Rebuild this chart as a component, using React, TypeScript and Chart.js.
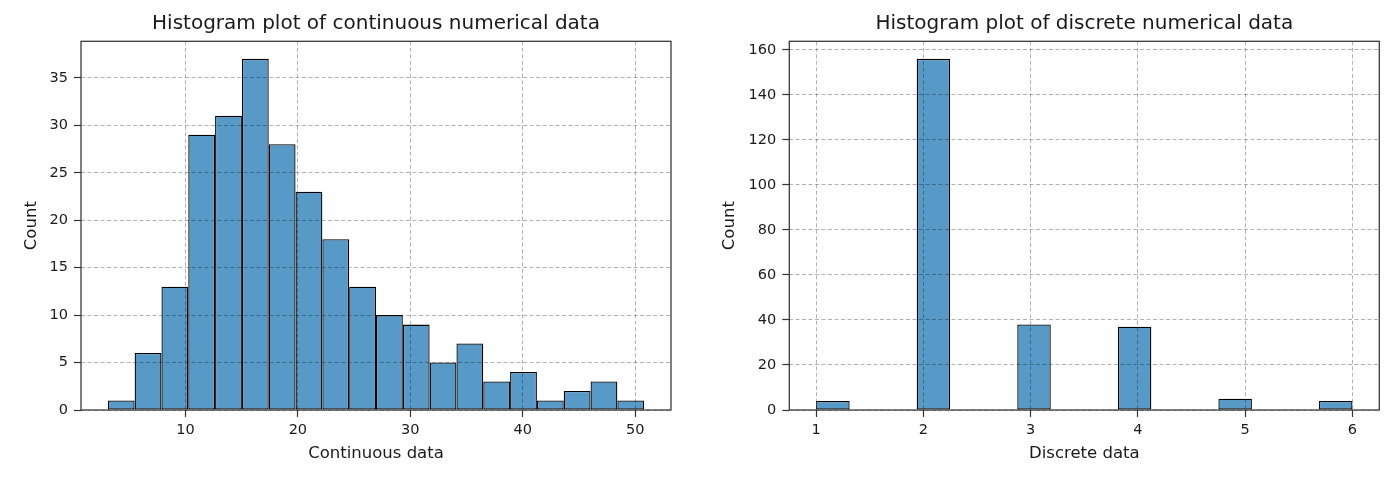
import { useEffect, useRef } from "react";
import { Chart, registerables } from "chart.js";

Chart.register(...registerables);
Chart.defaults.font.family = "'DejaVu Sans', sans-serif";

// left panel: 20 equal bins
const continuousBinStart = 3.1;
const continuousBinWidth = 2.385;
const continuousCounts = [1, 6, 13, 29, 31, 37, 28, 23, 18, 13, 10, 9, 5, 7, 3, 4, 1, 2, 3, 1];

// right panel: integer values, 16 bins between 1 and 6
const discreteValues = [1, 2, 3, 4, 5, 6];
const discreteBinStarts = [1, 1.9375, 2.875, 3.8125, 4.75, 5.6875];
const discreteBinWidth = 0.3125;
const discreteCounts = [4, 156, 38, 37, 5, 4];

const BAR_FILL = "#5799c7";
const GRID = "rgba(0,0,0,0.3)";
const SPINE = "#333333";
const TEXT = "#1a1a1a";

type Pt = { x: number; y: number };

const framePlugin = {
  id: "frame",
  afterDraw(chart: Chart) {
    const { ctx, chartArea } = chart;
    ctx.save();
    ctx.strokeStyle = SPINE;
    ctx.lineWidth = 1.25;
    ctx.strokeRect(chartArea.left, chartArea.top, chartArea.right - chartArea.left, chartArea.bottom - chartArea.top);
    ctx.restore();
  },
};

interface HistProps {
  title: string;
  xLabel: string;
  points: Pt[];
  binWidth: number;
  xStep: number;
  yStep: number;
  axisWidth: number;
  padRight: number;
  countPad: number;
  width: number;
  left: number;
}

const minGap = (xs: number[]) => {
  const s = [...xs].sort((a, b) => a - b);
  let m = Infinity;
  for (let i = 1; i < s.length; i++) m = Math.min(m, s[i] - s[i - 1]);
  return m;
};

const Histogram: React.FC<HistProps> = (p) => {
  const canvasRef = useRef<HTMLCanvasElement | null>(null);

  useEffect(() => {
    if (!canvasRef.current) return;
    const xs = p.points.map((d) => d.x);
    const lo = Math.min(...xs) - p.binWidth / 2;
    const hi = Math.max(...xs) + p.binWidth / 2;
    const margin = (hi - lo) * 0.05;
    const yMax = Math.max(...p.points.map((d) => d.y)) * 1.05;

    const chart = new Chart(canvasRef.current, {
      type: "bar",
      data: {
        datasets: [
          {
            data: p.points,
            backgroundColor: BAR_FILL,
            borderColor: "#000000",
            borderWidth: 1.3,
            borderSkipped: false,
            categoryPercentage: 1,
            barPercentage: p.binWidth / minGap(xs),
          },
        ],
      },
      options: {
        animation: false,
        responsive: false,
        layout: { padding: { left: 0, right: p.padRight, top: 0, bottom: 0 } },
        plugins: {
          legend: { display: false },
          tooltip: { enabled: false },
          title: {
            display: true,
            text: p.title,
            fullSize: false,
            color: TEXT,
            font: { size: 20, weight: "normal" },
            padding: { top: 11.5, bottom: 5.8 },
          },
        },
        scales: {
          x: {
            type: "linear",
            min: lo - margin,
            max: hi + margin,
            offset: false,
            grid: {
              z: 1,
              offset: false,
              color: GRID,
              lineWidth: 1,
              tickLength: 7,
              tickColor: SPINE,
              tickWidth: 1.2,
              tickBorderDash: [],
            },
            border: { display: false, dash: [4, 2.5] },
            ticks: {
              stepSize: p.xStep,
              includeBounds: false,
              padding: 5,
              maxRotation: 0,
              color: TEXT,
              font: { size: 14.5 },
            },
            title: {
              display: true,
              text: p.xLabel,
              color: TEXT,
              font: { size: 16.5 },
              padding: { top: 0, bottom: 12.9 },
            },
            afterFit: (s: any) => {
              s.height = 67;
            },
          },
          y: {
            min: 0,
            max: yMax,
            grid: {
              z: 1,
              color: GRID,
              lineWidth: 1,
              tickLength: 7,
              tickColor: SPINE,
              tickWidth: 1.2,
              tickBorderDash: [],
            },
            border: { display: false, dash: [4, 2.5] },
            ticks: {
              stepSize: p.yStep,
              includeBounds: false,
              padding: 6,
              color: TEXT,
              font: { size: 14.5 },
            },
            title: {
              display: true,
              text: "Count",
              color: TEXT,
              font: { size: 16.5 },
              padding: { top: p.countPad, bottom: 0 },
            },
            afterFit: (s: any) => {
              s.width = p.axisWidth;
            },
          },
        },
      },
      plugins: [framePlugin],
    });

    return () => {
      chart.destroy();
    };
  }, []);

  return (
    <canvas
      ref={canvasRef}
      width={p.width}
      height={477}
      style={{ position: "absolute", left: p.left, top: 0, display: "block" }}
    />
  );
};

const continuousPoints: Pt[] = continuousCounts.map((c, i) => ({
  x: continuousBinStart + (i + 0.5) * continuousBinWidth,
  y: c,
}));

const discretePoints: Pt[] = discreteCounts.map((c, i) => ({
  x: discreteBinStarts[i] + discreteBinWidth / 2,
  y: c,
}));

const App: React.FC = () => {
  return (
    <div
      style={{
        position: "fixed",
        left: 0,
        top: 0,
        width: 1398,
        height: 477,
        background: "#ffffff",
        overflow: "hidden",
      }}
    >
      <Histogram
        title="Histogram plot of continuous numerical data"
        xLabel="Continuous data"
        points={continuousPoints}
        binWidth={continuousBinWidth}
        xStep={10}
        yStep={5}
        axisWidth={81}
        padRight={28}
        countPad={22.3}
        width={699}
        left={0}
      />
      <Histogram
        title="Histogram plot of discrete numerical data"
        xLabel="Discrete data"
        points={discretePoints}
        binWidth={discreteBinWidth}
        xStep={discreteValues[1] - discreteValues[0]}
        yStep={20}
        axisWidth={90.3}
        padRight={18.7}
        countPad={21.3}
        width={699}
        left={699}
      />
    </div>
  );
};

export default App;
